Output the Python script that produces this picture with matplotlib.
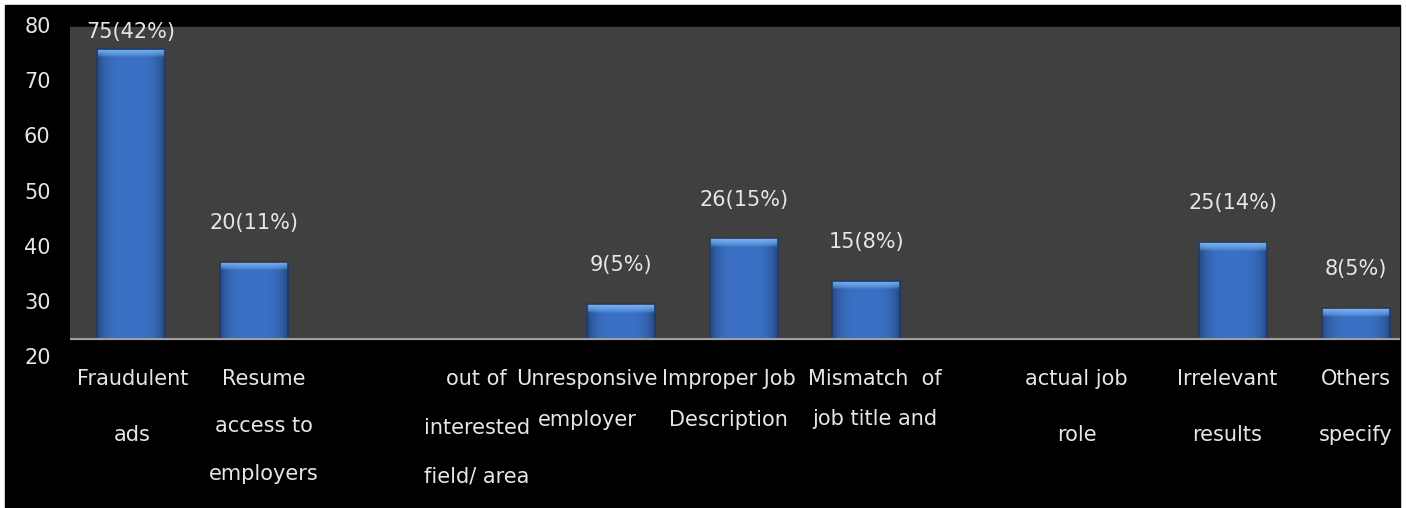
import numpy as np
import matplotlib.pyplot as plt
from matplotlib.patches import Rectangle

counts = [75, 20, 9, 26, 15, 25, 8]
shares = [42, 11, 5, 15, 8, 14, 5]
x_labels = ["Fraudulent\nads", "Resume\naccess to\nemployers",
            "out of\ninterested\nfield/ area", "Unresponsive\nemployer",
            "Improper Job\nDescription", "Mismatch  of\njob title and",
            "actual job\nrole", "Irrelevant\nresults", "Others\nspecify"]
y_ticks = [20, 30, 40, 50, 60, 70, 80]

# layout: slot of each bar, where each category text sits, spacing of its lines
bar_slots = [0, 1, 4, 5, 6, 9, 10]
label_slots = [0.01, 1.08, 2.82, 3.72, 4.88, 6.07, 7.72, 8.95, 10.0]
line_gaps = [3.22, 2.7, 2.8, 2.3, 2.3, 2.25, 3.22, 3.22, 3.22]

TEXT = '#e6e6e6'
PLOT_BG = '#404040'
TOP = 80.6


def tick_pos(t):
    # left scale labels sit on their own spacing, 20 falls below the baseline
    return (np.asarray(t) - 23.1) / 0.7015


def shaded_bar(ax, x, h, w):
    cols = np.linspace(-1, 1, 80)
    side = 1 - 0.35 * np.abs(cols) ** 4
    rows = np.linspace(0, h, max(int(h * 8), 4))
    bevel = np.clip((rows - (h - 2.2)) / 2.2, 0, 1) ** 0.6
    base = np.array([0.23, 0.44, 0.77])
    light = np.array([0.47, 0.71, 0.96])
    img = base[None, None, :] * side[None, :, None]
    img = img * (1 - bevel[:, None, None]) + light[None, None, :] * bevel[:, None, None]
    im = ax.imshow(img, origin='lower', extent=(x - w / 2, x + w / 2, 0, h),
                   aspect='auto', interpolation='bilinear', zorder=2)
    rect = Rectangle((x - w / 2, 0), w, h, fill=False, edgecolor='#1e3a6a',
                     lw=1.2, zorder=3)
    ax.add_patch(rect)
    im.set_clip_path(rect)


fig = plt.figure(figsize=(14.06, 5.08), dpi=100, facecolor='white')
fig.patches.append(Rectangle((5 / 1406, 0), 1395 / 1406, 503 / 508,
                             transform=fig.transFigure, color='black', zorder=-10))

ax = fig.add_axes([70 / 1406, 143 / 508, 1330 / 1406, 345 / 508])
ax.patch.set_alpha(0)
ax.axhspan(0, TOP, color=PLOT_BG, zorder=0)
ax.axhline(0, color='#a0a0a0', lw=1.5, zorder=4)

bar_w = 0.555
for slot, v, p in zip(bar_slots, counts, shares):
    shaded_bar(ax, slot, v, bar_w)
    ax.text(slot, min(v + 10, 79.3), f"{v}({p}%)", ha='center', va='center',
            color=TEXT, fontsize=15, zorder=5)

ax.set_xlim(-0.5, 10.36)
ax.set_ylim(-6.72, 82.4)

ax.set_yticks(tick_pos(y_ticks), [str(t) for t in y_ticks])
ax.set_xticks(label_slots, x_labels)
for lbl, gap in zip(ax.get_xticklabels(), line_gaps):
    lbl.set_linespacing(gap)

ax.tick_params(axis='y', length=0, labelsize=15, labelcolor=TEXT, pad=14)
ax.tick_params(axis='x', length=0, labelsize=15, labelcolor=TEXT, pad=3)
for s in ax.spines.values():
    s.set_visible(False)

fig.savefig('out.png', dpi=100, facecolor='white')
